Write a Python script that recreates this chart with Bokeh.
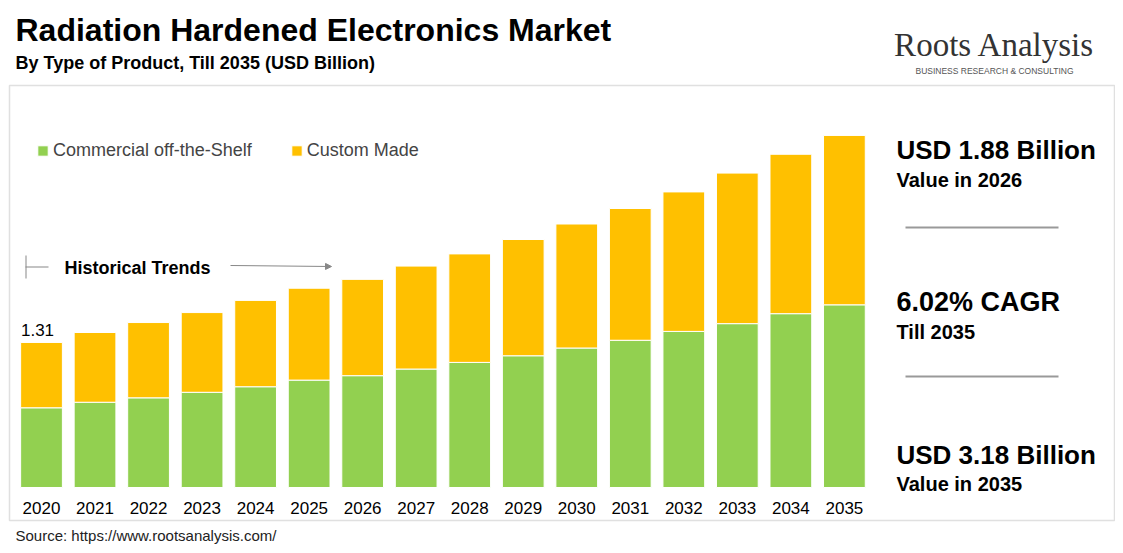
from bokeh.plotting import figure
from bokeh.models import Label, BoxAnnotation, Arrow, NormalHead, Legend, LegendItem
from bokeh.core.properties import value
from bokeh.embed import file_html
from bokeh.resources import INLINE

years = [str(y) for y in range(2020, 2036)]
commercial = [0.72, 0.77, 0.81, 0.86, 0.91, 0.97, 1.01, 1.07, 1.13, 1.19, 1.26, 1.33, 1.41, 1.48, 1.57, 1.65]
total = [1.31, 1.40, 1.49, 1.58, 1.69, 1.80, 1.88, 2.00, 2.11, 2.24, 2.38, 2.52, 2.67, 2.84, 3.01, 3.18]
custom = [round(t - c, 2) for t, c in zip(total, commercial)]
idx = list(range(len(years)))

W, H = 1115, 545
GREEN = "#92D050"
YELLOW = "#FFC000"

# frame covers the whole canvas; ranges chosen so bars sit where the reference has them
p = figure(x_range=(-0.766, 20.065), y_range=(-0.524, 4.399), width=W, height=H,
           output_backend="svg", toolbar_location=None,
           min_border=0, min_border_left=0, min_border_right=0, min_border_top=0, min_border_bottom=0)
p.outline_line_color = None
p.grid.visible = False
p.axis.visible = False

src = dict(x=idx, year=years, commercial=commercial, custom=custom)
rs = p.vbar_stack(["commercial", "custom"], x="x", width=0.78, source=src,
                  color=[GREEN, YELLOW], line_color="white", line_width=1)
p.text(x="x", y=0, text="year", source=src, text_font=value("Arial"), text_font_size="17px",
       text_align="center", text_baseline="middle", y_offset=21, text_color="#000000")
legend = Legend(items=[LegendItem(label="Commercial off-the-Shelf", renderers=[rs[0]]),
                       LegendItem(label="Custom Made", renderers=[rs[1]])],
                orientation="horizontal", location=(36, 384), border_line_color=None,
                background_fill_alpha=0, label_text_font="Arial", label_text_font_size="18px",
                glyph_width=13, glyph_height=13, spacing=38, label_standoff=4)
p.add_layout(legend, "center")


def ix(x):
    return x


def iy(y):
    return H - y


def lab(text, x, y, size, bold=False, font="Arial", color="#000000", base="middle", align="left"):
    p.add_layout(Label(x=ix(x), y=iy(y), x_units="screen", y_units="screen", text=text,
                       text_font=font, text_font_size=size, text_color=color,
                       text_font_style="bold" if bold else "normal",
                       text_baseline=base, text_align=align))


def box(l, r, t, b, **kw):
    p.add_layout(BoxAnnotation(left=ix(l), right=ix(r), bottom=iy(b), top=iy(t),
                               left_units="screen", right_units="screen",
                               bottom_units="screen", top_units="screen", **kw))


box(9, 1114, 85, 520, fill_alpha=0, line_color="#999999", line_width=1.5)

lab("Radiation Hardened Electronics Market", 15, 29, "32px", bold=True)
lab("By Type of Product, Till 2035 (USD Billion)", 15, 62, "18px", bold=True)
lab("Roots Analysis", 994, 44, "33px", font="Liberation Serif", color="#333333", align="center")
lab("BUSINESS RESEARCH & CONSULTING", 994, 70, "8.5px", color="#555555", align="center")

lab("USD 1.88 Billion", 896, 149, "26px", bold=True)
lab("Value in 2026", 896, 179, "20px", bold=True)
lab("6.02% CAGR", 896, 301, "27px", bold=True)
lab("Till 2035", 896, 331, "20px", bold=True)
lab("USD 3.18 Billion", 896, 454, "26px", bold=True)
lab("Value in 2035", 896, 483, "20px", bold=True)
for yy in (227, 376):
    box(905, 1058, yy - 1, yy + 1, fill_color="#999999", fill_alpha=1, line_color=None)

lab("Historical Trends", 64, 267, "18px", bold=True)
p.add_layout(Arrow(x_start=ix(230), y_start=iy(265), x_end=ix(331), y_end=iy(266),
                   start_units="screen", end_units="screen", line_color="#888888", line_width=1,
                   end=NormalHead(size=6, line_color="#888888", fill_color="#888888")))
box(25, 26, 255, 278, fill_color="#888888", fill_alpha=1, line_color=None)
box(25, 48, 266, 267, fill_color="#888888", fill_alpha=1, line_color=None)

p.text(x=[idx[0]], y=[total[0]], text=[f"{total[0]:.2f}"], text_font=value("Arial"),
       text_font_size="17px", text_align="center", text_baseline="bottom", y_offset=-6, x_offset=-4)

lab("Source: https://www.rootsanalysis.com/", 15, 535, "15px", color="#222222")

open("out.html", "w").write(file_html(p, INLINE))
